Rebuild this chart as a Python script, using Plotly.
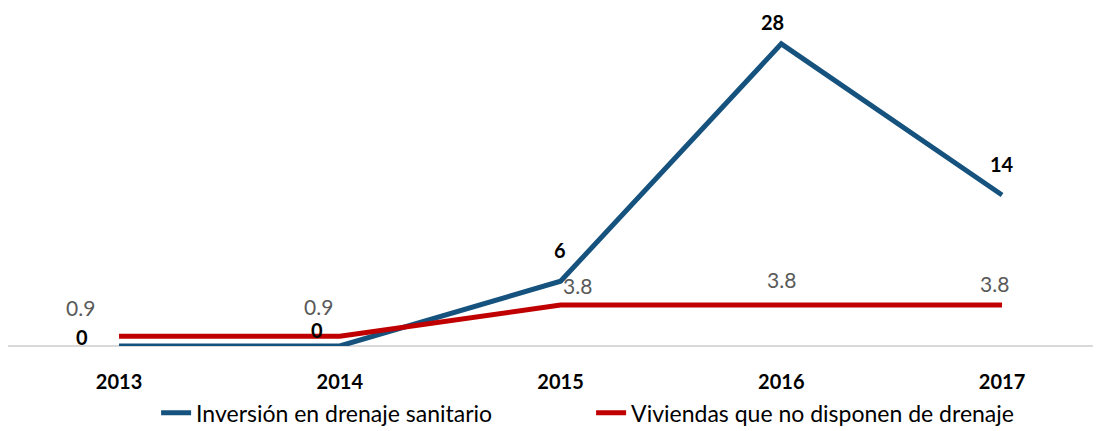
import plotly.graph_objects as go

years = ["2013", "2014", "2015", "2016", "2017"]
inversion = [0, 0, 6, 28, 14]
viviendas = [0.9, 0.9, 3.8, 3.8, 3.8]
inv_labels = ["0", "0", "6", "28", "14"]
viv_labels = ["0.9", "0.9", "3.8", "3.8", "3.8"]

# label offsets in pixels (style only)
inv_shift = [(-37, 9), (-23, 16), (-1, 31), (-9, 22), (0, 31)]
viv_shift = [(-39, 29), (-21, 30), (17, 20), (0, 26), (-8, 22)]

BLUE = "#16527e"
RED = "#c00000"
FONT = "Lato"

xs = list(range(len(years)))
fig = go.Figure()
fig.add_trace(go.Scatter(x=xs, y=inversion, mode="lines", name="Inversión en drenaje sanitario",
                         line=dict(color=BLUE, width=5)))
fig.add_trace(go.Scatter(x=xs, y=viviendas, mode="lines", name="Viviendas que no disponen de drenaje",
                         line=dict(color=RED, width=5)))

ann = []
for i in xs:
    ann.append(dict(x=i, y=inversion[i], text=inv_labels[i], showarrow=False,
                    xshift=inv_shift[i][0], yshift=inv_shift[i][1],
                    font=dict(family=FONT, size=20, color="black", weight="bold")))
    ann.append(dict(x=i, y=viviendas[i], text=viv_labels[i], showarrow=False,
                    xshift=viv_shift[i][0], yshift=viv_shift[i][1],
                    font=dict(family=FONT, size=21, color="#595959")))

fig.update_layout(
    width=1101, height=431,
    margin=dict(l=0, r=16, t=2, b=93, autoexpand=False),
    paper_bgcolor="white", plot_bgcolor="white",
    font=dict(family=FONT, size=19, color="black"),
    annotations=ann,
    showlegend=True,
    legend=dict(orientation="h", x=0.1365, xanchor="left", y=-0.199, yanchor="middle",
                entrywidth=390, entrywidthmode="pixels",
                font=dict(family=FONT, size=23, color="black")),
    xaxis=dict(range=[-0.503, 4.412], tickvals=xs, ticktext=years, showgrid=False, zeroline=False,
               showline=False, ticks="outside", ticklen=18, tickcolor="rgba(0,0,0,0)",
               tickfont=dict(family=FONT, size=20, weight="bold", color="black")),
    yaxis=dict(range=[0, 31.14], showgrid=False, zeroline=True, zerolinecolor="#d9d9d9", zerolinewidth=2,
               showticklabels=False, showline=False, ticks=""),
)
fig.write_html("out.html")
